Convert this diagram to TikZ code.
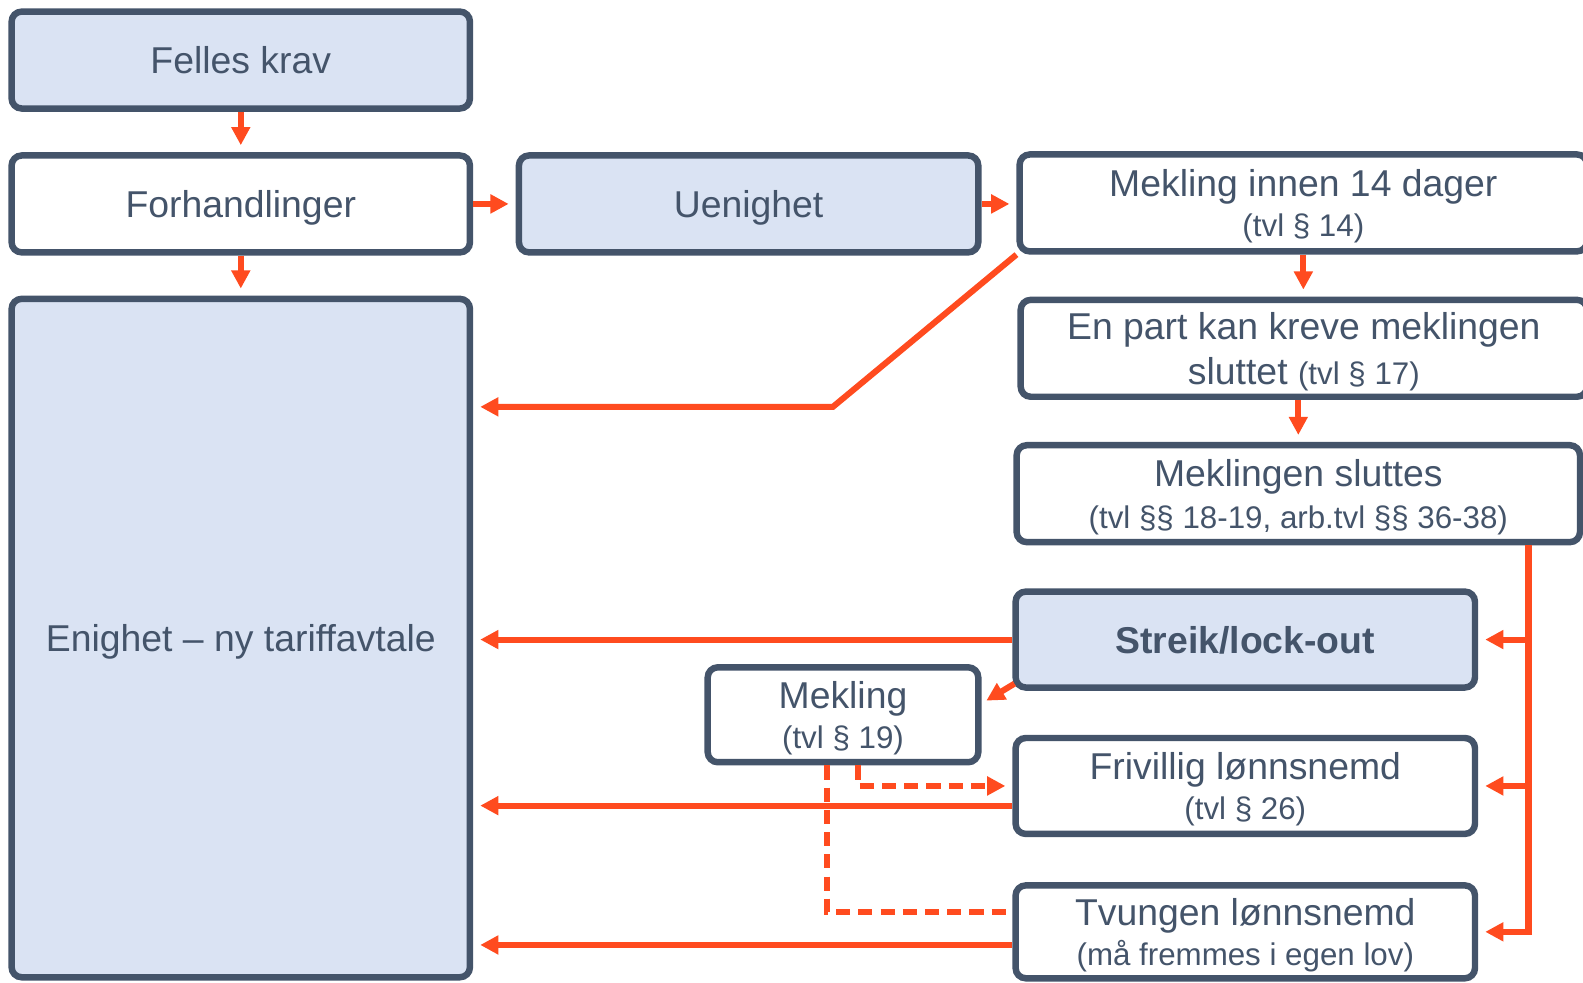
\documentclass[tikz,border=0pt]{standalone}
\usepackage{fontspec}
\setmainfont{Liberation Sans}
\usetikzlibrary{arrows.meta}
\definecolor{slate}{HTML}{44546A}
\definecolor{boxfill}{HTML}{DAE3F3}
\definecolor{flow}{HTML}{FF4B1F}
\newcommand{\bigf}{\fontsize{18.5pt}{20pt}\selectfont}
\newcommand{\smf}{\fontsize{15.5pt}{20pt}\selectfont}
\begin{document}
\begin{tikzpicture}[x=0.5pt,y=-0.5pt,
  box/.style={draw=slate, line width=3.2pt, rounded corners=5pt, text=slate, align=center, inner sep=0pt, font=\bigf, text depth=0pt},
  bluebox/.style={box, fill=boxfill},
  whitebox/.style={box, fill=white},
  arr/.style={draw=flow, line width=3pt, -{Triangle[length=9pt,width=9pt]}, shorten >=3.5pt},
  plain/.style={draw=flow, line width=3pt},
  dsh/.style={dash pattern=on 7pt off 4pt}]
\clip (0,0) rectangle (1568,973);
\fill[white] (0,0) rectangle (1568,973);

% nodes
\node[bluebox, minimum width=227pt, minimum height=48pt] (felles) at (238.5,59.5) {Felles krav};
\node[whitebox, minimum width=227pt, minimum height=48pt] (forh) at (238.5,202) {Forhandlinger};
\node[bluebox, minimum width=227pt, minimum height=336pt] (enighet) at (238.5,632) {Enighet -- ny tariffavtale};
\node[bluebox, minimum width=227.5pt, minimum height=48pt] (uenighet) at (741.5,202) {Uenighet};
\node[whitebox, minimum width=281pt, minimum height=48pt] (mek14) at (1291,201) {Mekling innen 14 dager\\{\smf (tvl § 14)}};
\node[whitebox, minimum width=280.5pt, minimum height=48pt] (enpart) at (1291.5,345) {En part kan kreve meklingen\\[2pt]sluttet {\smf (tvl § 17)}};
\node[whitebox, minimum width=279pt, minimum height=48pt] (sluttes) at (1286,489) {Meklingen sluttes\\[1pt]{\smf (tvl §§ 18-19, arb.tvl §§ 36-38)}};
\node[bluebox, minimum width=227.5pt, minimum height=47.5pt] (streik) at (1233.5,633.5) {\textbf{Streik/lock-out}};
\node[whitebox, minimum width=134pt, minimum height=47pt] (mekling) at (835,708) {Mekling\\{\smf (tvl § 19)}};
\node[whitebox, minimum width=227.5pt, minimum height=47.5pt] (frivillig) at (1233.5,778.5) {Frivillig lønnsnemd\\{\smf (tvl § 26)}};
\node[whitebox, minimum width=227.5pt, minimum height=46pt] (tvungen) at (1233.5,923) {Tvungen lønnsnemd\\{\smf (må fremmes i egen lov)}};

% helper coordinates
\coordinate (bend) at (825,403);
\coordinate (rail) at (1514,0);
\coordinate (fl) at ([yshift=-9.75pt]frivillig.west);
\coordinate (tl) at ([yshift=-6.5pt]tvungen.west);

% connectors
\draw[arr] (felles) -- (forh);
\draw[arr] (forh) -- (enighet);
\draw[arr] (forh) -- (uenighet);
\draw[arr] (uenighet.east) -- (uenighet.east -| mek14.west);
\draw[arr] (mek14.south) -- (mek14.south |- enpart.north);
\draw[arr] (enpart.south -| sluttes.north) -- (sluttes.north);
\draw[arr, line join=miter] (mek14.south west) -- (bend) -- (bend -| enighet.east);

\draw[arr] (sluttes.south -| rail) -- (rail |- tvungen.east) -- (tvungen.east);
\draw[arr] (rail |- streik.east) -- (streik.east);
\draw[arr] (rail |- frivillig.east) -- (frivillig.east);

\draw[arr] (streik.west) -- (streik.west -| enighet.east);
\draw[arr] (fl) -- (fl -| enighet.east);
\draw[arr] (tl) -- (tl -| enighet.east);

\draw[arr, shorten >=0pt] ([xshift=1pt,yshift=3.5pt]streik.south west) -- ([xshift=2.4pt,yshift=7pt]mekling.east);

\draw[arr, dsh] ([xshift=7.5pt]mekling.south) |- (frivillig.west);
\draw[plain, dsh] ([xshift=-8pt]mekling.south) |- ([yshift=10pt]tvungen.west);
\end{tikzpicture}
\end{document}
